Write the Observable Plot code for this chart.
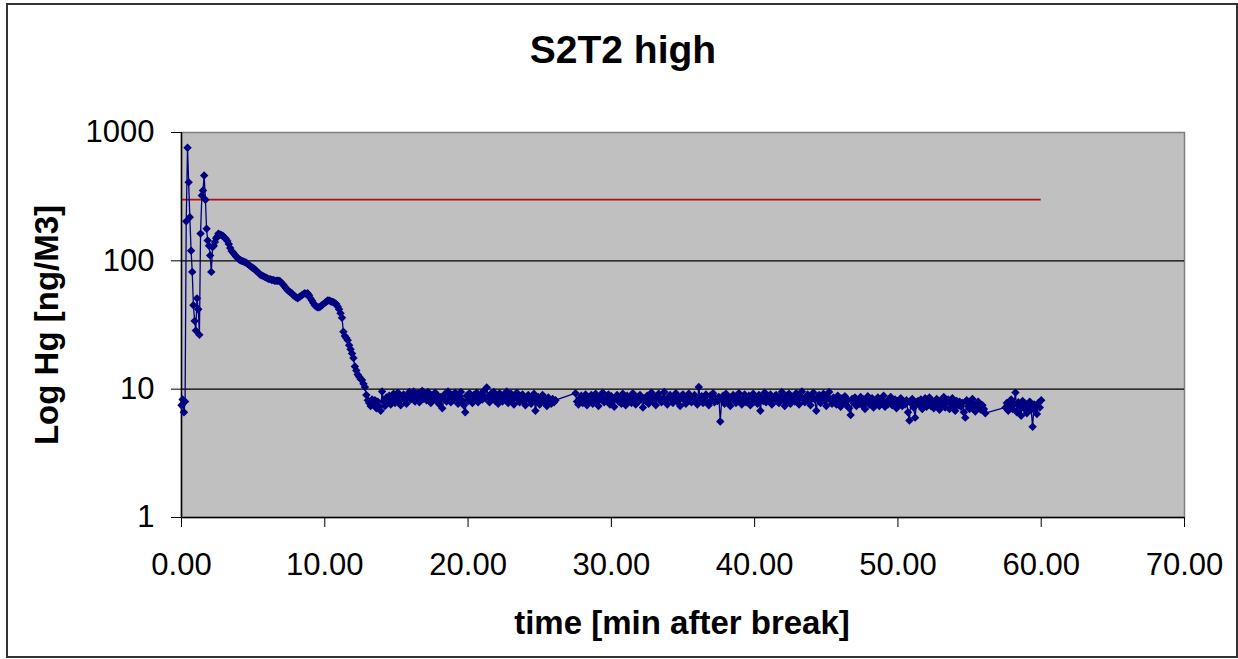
<!DOCTYPE html>
<html>
<head>
<meta charset="utf-8">
<script src="https://cdn.jsdelivr.net/npm/d3@7"></script>
<script src="https://cdn.jsdelivr.net/npm/@observablehq/plot@0.6"></script>
<style>
  html, body { margin: 0; padding: 0; background: #fff; }
  #wrap { position: relative; width: 1238px; height: 659px; overflow: hidden; font-family: "Liberation Sans", Arial, sans-serif; }
  #border { position: absolute; left: 6px; top: 3px; width: 1228px; height: 651px; border: 2px solid #333; }
  .lbl { position: absolute; font-weight: bold; color: #000; white-space: nowrap; line-height: 1; }
  #title { left: 623px; top: 30px; font-size: 39px; transform: translateX(-50%); }
  #xlab { left: 682px; top: 606px; font-size: 33px; transform: translateX(-50%); }
  #ylab { left: 46px; top: 325px; font-size: 33px; transform: translate(-50%, -50%) rotate(-90deg); }
  #chart { position: absolute; left: 0; top: 0; }
</style>
</head>
<body>
<div id="wrap">
  <div id="border"></div>
  <div id="chart"></div>
  <div class="lbl" id="title">S2T2 high</div>
  <div class="lbl" id="ylab">Log Hg [ng/M3]</div>
  <div class="lbl" id="xlab">time [min after break]</div>
</div>
<script>
// ---- Data ----
const titleText = "S2T2 high";
const xTicks = [0, 10, 20, 30, 40, 50, 60, 70];
const yTicks = [1, 10, 100, 1000];
const threshold = 300;          // red limit line [ng/M3]
const thresholdSpan = [0, 60];  // minutes

// Initial burst: explicit (time, Hg) readings
const earlyTime = [0.00, 0.08, 0.17, 0.25, 0.33, 0.42, 0.50, 0.58, 0.67, 0.75, 0.83, 0.92, 1.00, 1.08, 1.17, 1.25,
  1.33, 1.42, 1.50, 1.58, 1.67, 1.75, 1.83, 1.92, 2.00, 2.08, 2.17, 2.25, 2.33, 2.42, 2.50, 2.58];
const earlyHg = [7.5, 8.3, 6.6, 8.0, 203, 760, 410, 219, 120, 82, 45, 34, 28.6, 51, 42, 26.5,
  163, 323, 353, 462, 299, 178, 144, 131, 110, 82, 128, 131, 140, 150, 155, 163];

// Sampling interval of the logger (minutes) for the following runs
const sampleStep = 0.1;

// Decay 2.7 .. 13.9 min
const decayStart = 2.7;
const decayHg = [160, 158, 156, 152, 148, 143, 135, 126, 119, 116,
  112, 108, 106, 103, 101, 100, 99, 98, 97, 95,
  93, 91, 89, 88, 86, 84, 82, 80, 78, 77,
  76, 75, 74, 73, 72, 72, 71, 71, 70, 70,
  70, 70, 69, 67, 65, 63, 61, 59, 58, 57,
  56, 54, 53, 52, 51, 52, 53, 54, 55, 56,
  55, 56, 54, 51, 49, 47, 45, 44, 43.5, 43.5,
  44, 45, 46, 47, 48, 49, 49, 48.5, 48, 47.5,
  47, 46, 44, 42, 39, 36, 28, 26, 25, 24,
  22, 20.5, 19, 17.5, 15, 14, 13, 12.5, 12, 11.8,
  11, 10.4, 9, 8.2, 7.8, 7.4, 8.3, 7.6, 8.2, 7.1,
  8.0, 7.3, 6.8];

// Plateau 14.0 .. 26.1 min
const plateau1Start = 14.0;
const plateau1Hg = [9.6, 8.1, 7.4, 8.6, 7.9, 8.9, 7.6, 8.4, 9.2, 7.8,
  8.5, 9.4, 8.0, 7.5, 8.8, 9.1, 8.2, 7.7, 8.9, 9.5,
  8.3, 8.7, 9.6, 8.0, 8.6, 9.3, 7.9, 8.8, 9.7, 8.4,
  9.1, 8.2, 9.5, 8.6, 7.8, 9.0, 8.5, 9.4, 8.1, 8.9,
  7.6, 8.7, 7.1, 8.4, 9.2, 8.0, 9.6, 8.5, 7.9, 9.0,
  8.3, 9.4, 8.6, 7.7, 8.8, 9.5, 8.2, 7.5, 6.6, 8.9,
  8.1, 9.3, 8.4, 7.8, 9.0, 8.6, 9.4, 7.9, 8.7, 9.1,
  8.3, 9.7, 8.5, 10.3, 8.8, 7.9, 9.2, 8.4, 9.5, 8.1,
  8.9, 7.7, 9.3, 8.6, 8.0, 9.1, 8.4, 9.6, 7.8, 8.7,
  9.2, 8.2, 7.6, 8.9, 9.4, 8.3, 7.9, 8.8, 9.1, 8.0,
  7.5, 8.6, 9.0, 8.2, 7.7, 8.5, 9.2, 6.8, 8.1, 8.7,
  7.6, 8.4, 9.0, 7.9, 8.3, 7.4, 8.6, 8.1, 7.7, 8.4,
  7.9, 8.2];

// Plateau 27.5 .. 56.1 min
const plateau2Start = 27.5;
const plateau2Hg = [9.3, 8.0, 7.6, 8.5, 8.9, 7.8, 8.3, 9.1, 7.5, 8.6,
  8.1, 9.0, 7.7, 8.4, 9.2, 8.0, 7.4, 8.7, 8.3, 9.4,
  7.9, 8.5, 8.1, 9.1, 7.6, 8.8, 8.2, 7.3, 8.6, 9.0,
  8.0, 8.4, 7.7, 9.2, 8.3, 7.5, 8.9, 8.1, 8.6, 7.8,
  9.3, 8.2, 7.6, 8.7, 8.0, 9.0, 8.4, 7.2, 8.5, 8.1,
  8.9, 7.7, 8.3, 9.4, 8.0, 8.6, 7.5, 8.8, 9.2, 8.2,
  7.9, 8.5, 9.5, 8.1, 7.6, 8.7, 9.0, 8.3, 7.8, 8.6,
  9.3, 8.0, 8.4, 7.4, 8.9, 9.1, 8.2, 7.7, 8.5, 9.2,
  8.1, 7.9, 8.7, 9.0, 8.3, 7.6, 10.4, 8.4, 8.8, 7.8,
  8.6, 9.1, 8.0, 7.5, 8.9, 8.2, 9.3, 7.9, 8.5, 8.1,
  8.7, 5.6, 8.3, 8.9, 7.7, 9.2, 8.0, 8.6, 7.4, 8.4,
  9.0, 8.1, 7.8, 8.8, 9.3, 8.2, 7.6, 8.5, 9.1, 7.9,
  8.4, 8.9, 7.5, 8.6, 9.2, 8.0, 8.3, 7.7, 9.0, 6.8,
  8.5, 8.1, 9.4, 7.9, 8.7, 8.2, 9.1, 7.6, 8.4, 8.8,
  9.0, 8.0, 7.8, 8.6, 9.5, 8.3, 7.4, 8.9, 8.1, 9.2,
  7.7, 8.5, 8.8, 8.0, 9.3, 8.2, 7.6, 8.7, 9.6, 8.4,
  7.9, 8.6, 9.1, 8.0, 7.5, 8.8, 9.4, 8.3, 6.8, 8.5,
  9.0, 7.8, 8.4, 9.2, 8.1, 7.4, 8.7, 9.5, 8.2, 7.7,
  8.6, 8.0, 7.6, 8.9, 8.3, 7.3, 8.5, 7.9, 8.8, 7.5,
  8.2, 7.1, 6.3, 8.4, 7.8, 8.6, 7.4, 8.1, 7.7, 8.7,
  7.5, 8.3, 7.0, 8.0, 8.8, 7.6, 7.9, 8.5, 7.2, 8.1,
  7.8, 8.6, 7.4, 8.2, 7.7, 8.9, 7.3, 8.0, 7.6, 8.4,
  8.7, 7.5, 7.9, 8.3, 7.1, 8.1, 7.7, 8.5, 7.4, 8.0,
  7.6, 8.2, 6.6, 5.7, 7.8, 8.4, 7.2, 6.0, 7.9, 8.1,
  7.5, 8.3, 7.0, 7.7, 8.5, 7.3, 7.9, 8.6, 7.4, 8.0,
  7.1, 7.8, 8.4, 7.5, 6.9, 8.2, 7.6, 8.7, 7.2, 7.9,
  8.3, 7.0, 7.7, 8.5, 7.4, 6.8, 8.1, 7.5, 8.0, 7.3,
  7.8, 6.6, 6.0, 8.2, 7.4, 7.0, 7.9, 8.4, 7.2, 6.7,
  7.6, 8.0, 7.1, 6.9, 7.5, 7.0, 6.5];

// Final run 57.5 .. 60.0 min
const plateau3Start = 57.5;
const plateau3Hg = [7.2, 7.8, 6.8, 7.5, 8.3, 7.0, 7.6, 9.4, 6.6, 7.9,
  7.3, 6.2, 8.1, 7.1, 7.7, 6.5, 7.4, 8.0, 6.9, 5.1,
  7.6, 7.0, 6.4, 7.8, 7.2, 8.2];

// ---- Build table ----
const data = [];
earlyTime.forEach((t, i) => data.push({t, v: earlyHg[i]}));
function addRun(start, vals) {
  vals.forEach((v, i) => data.push({t: +(start + i * sampleStep).toFixed(2), v}));
}
addRun(decayStart, decayHg);
addRun(plateau1Start, plateau1Hg);
addRun(plateau2Start, plateau2Hg);
addRun(plateau3Start, plateau3Hg);

const navy = "#000080";
const chart = Plot.plot({
  width: 1238,
  height: 659,
  marginLeft: 181,
  marginRight: 54,
  marginTop: 132,
  marginBottom: 142,
  style: { fontFamily: "'Liberation Sans', Arial, sans-serif", fontSize: "31px", background: "transparent", color: "#000", overflow: "visible" },
  x: { domain: [0, 70], ticks: xTicks },
  y: { type: "log", domain: [1, 1000], ticks: yTicks },
  marks: [
    Plot.frame({ fill: "#C0C0C0", stroke: "#808080", strokeWidth: 1.5 }),
    Plot.ruleY([10, 100], { stroke: "#000", strokeWidth: 1.3 }),
    Plot.ruleY([threshold], { x1: thresholdSpan[0], x2: thresholdSpan[1], stroke: "#b01010", strokeWidth: 1.6 }),
    Plot.ruleY([1], { stroke: "#000", strokeWidth: 1.5 }),
    Plot.ruleX([0], { stroke: "#000", strokeWidth: 1.5 }),
    Plot.axisX({ ticks: xTicks, tickFormat: d => d.toFixed(2), tickSize: 10, tickPadding: 25, fontSize: 31, label: null, stroke: "#000" }),
    Plot.axisY({ ticks: yTicks, tickFormat: d => String(d), tickSize: 10, tickPadding: 17, fontSize: 31, label: null, stroke: "#000" }),
    Plot.line(data, { x: "t", y: "v", stroke: navy, strokeWidth: 1.3 }),
    Plot.dot(data, { x: "t", y: "v", symbol: "diamond2", r: 3.8, fill: navy, stroke: "none" })
  ]
});
document.getElementById("chart").appendChild(chart);
</script>
</body>
</html>
